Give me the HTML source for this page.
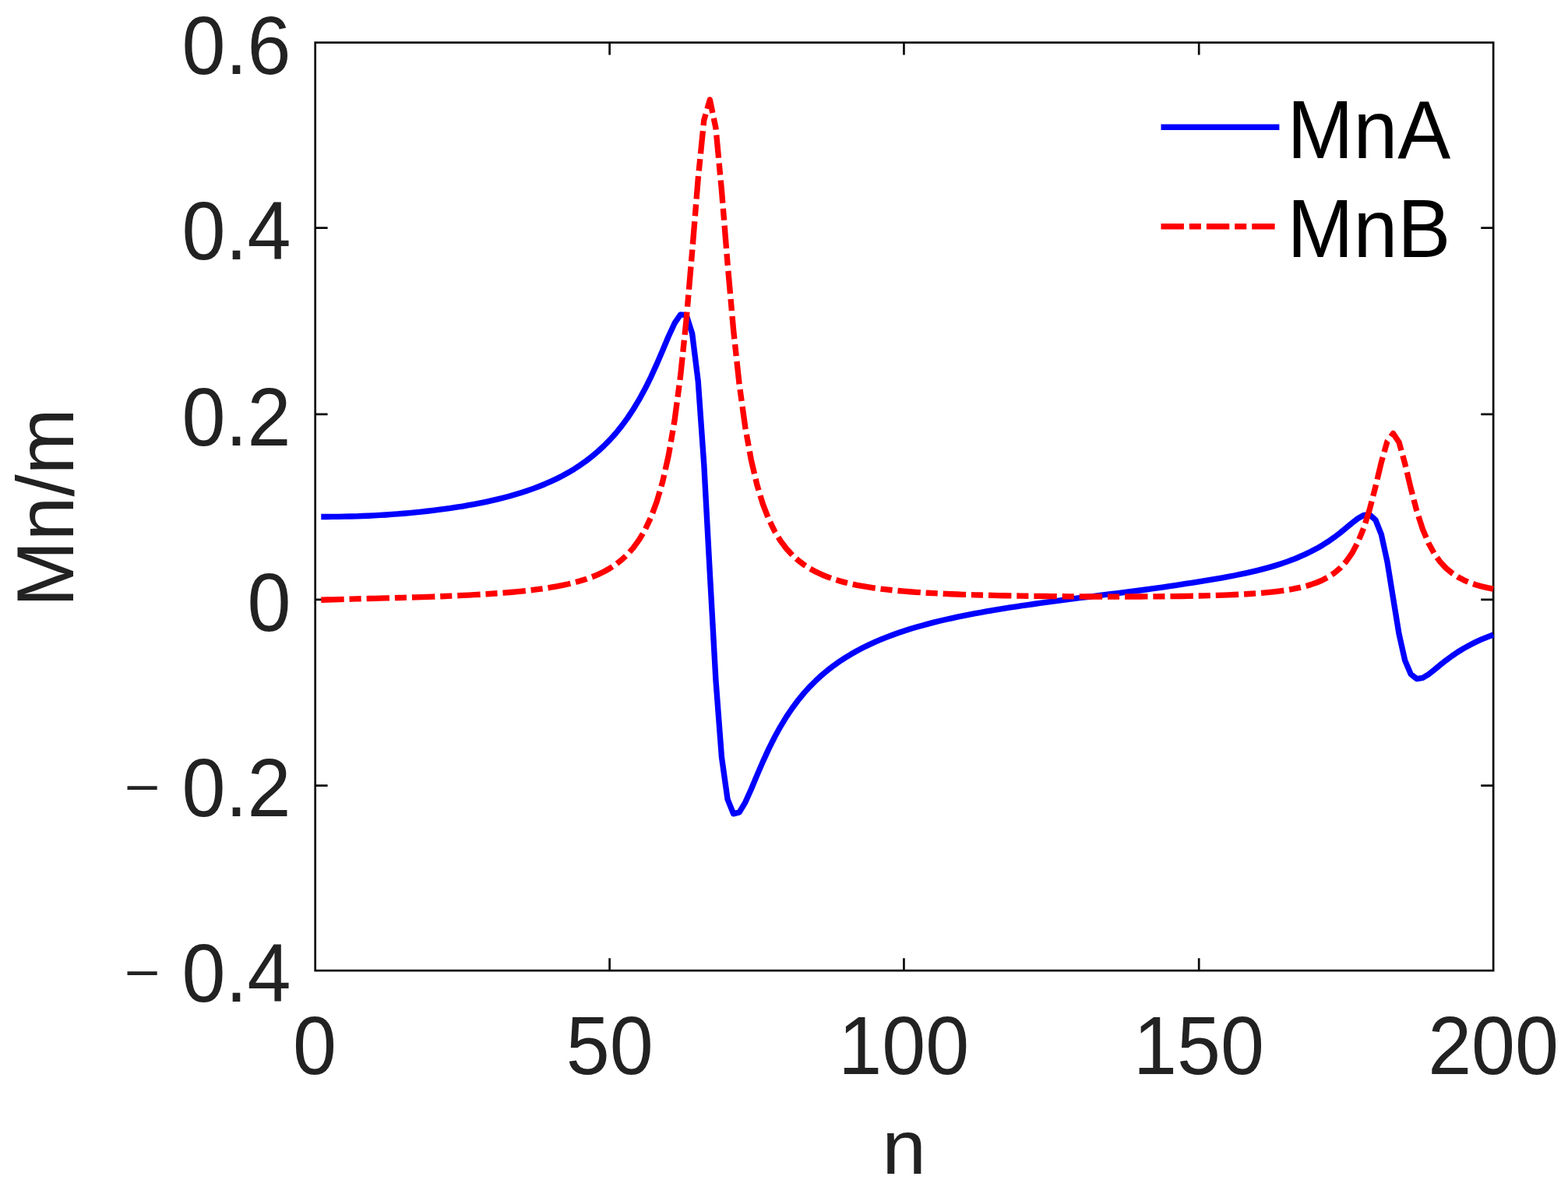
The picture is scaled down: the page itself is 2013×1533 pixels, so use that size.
<!DOCTYPE html>
<html lang="en"><head><meta charset="utf-8"><title>Mn/m</title>
<style>html,body{margin:0;padding:0;background:#fff;}body{width:2013px;height:1533px;overflow:hidden;}svg{display:block;}text{font-family:"Liberation Sans",sans-serif;font-size:102px;fill:#222222;}</style></head><body>
<svg width="2013" height="1533" viewBox="0 0 2013 1533">
<rect x="0" y="0" width="2013" height="1533" fill="#ffffff"/>
<g fill="none" stroke="#0a0a0a" stroke-width="2.7" stroke-linecap="butt">
<rect x="404.70" y="54.65" width="1512.45" height="1191.50"/>
<path d="M782.60 1246.15V1230.25M782.60 54.65V70.55M1160.45 1246.15V1230.25M1160.45 54.65V70.55M1539.20 1246.15V1230.25M1539.20 54.65V70.55M404.70 292.70H420.60M1917.15 292.70H1901.25M404.70 531.80H420.60M1917.15 531.80H1901.25M404.70 769.90H420.60M1917.15 769.90H1901.25M404.70 1008.65H420.60M1917.15 1008.65H1901.25"/>
</g>
<polyline points="412.26,663.45 419.82,663.46 427.39,663.41 434.95,663.33 442.51,663.20 450.07,663.03 457.63,662.81 465.20,662.54 472.76,662.22 480.32,661.86 487.88,661.44 495.44,660.97 503.01,660.44 510.57,659.87 518.13,659.25 525.69,658.57 533.25,657.85 540.82,657.07 548.38,656.25 555.94,655.37 563.50,654.43 571.06,653.43 578.63,652.37 586.19,651.23 593.75,650.02 601.31,648.73 608.87,647.35 616.44,645.89 624.00,644.33 631.56,642.66 639.12,640.89 646.68,638.99 654.25,636.97 661.81,634.81 669.37,632.50 676.93,630.02 684.49,627.37 692.06,624.53 699.62,621.47 707.18,618.19 714.74,614.63 722.30,610.78 729.87,606.59 737.43,602.04 744.99,597.11 752.55,591.74 760.11,585.89 767.68,579.51 775.24,572.53 782.80,564.89 790.36,556.47 797.92,547.17 805.49,536.89 813.05,525.51 820.61,512.93 828.17,499.04 835.73,483.76 843.30,467.14 850.86,449.47 858.42,431.55 865.98,415.17 873.54,403.96 881.11,404.67 888.67,428.44 896.23,489.53 903.79,596.49 911.35,736.47 918.92,872.96 926.48,972.24 934.04,1026.02 941.60,1044.87 949.16,1042.86 956.73,1030.35 964.29,1013.47 971.85,995.45 979.41,977.85 986.97,961.38 994.54,946.27 1002.10,932.55 1009.66,920.14 1017.22,908.93 1024.78,898.80 1032.35,889.63 1039.91,881.31 1047.47,873.73 1055.03,866.81 1062.59,860.48 1070.16,854.66 1077.72,849.30 1085.28,844.35 1092.84,839.77 1100.40,835.52 1107.97,831.56 1115.53,827.86 1123.09,824.41 1130.65,821.17 1138.21,818.12 1145.78,815.26 1153.34,812.56 1160.90,810.01 1168.46,807.60 1176.02,805.32 1183.59,803.16 1191.15,801.10 1198.71,799.15 1206.27,797.29 1213.83,795.52 1221.40,793.82 1228.96,792.19 1236.52,790.64 1244.08,789.14 1251.64,787.70 1259.21,786.31 1266.77,784.97 1274.33,783.67 1281.89,782.41 1289.45,781.19 1297.02,779.99 1304.58,778.83 1312.14,777.69 1319.70,776.58 1327.26,775.50 1334.83,774.43 1342.39,773.39 1349.95,772.36 1357.51,771.35 1365.07,770.36 1372.64,769.37 1380.20,768.40 1387.76,767.44 1395.32,766.49 1402.88,765.54 1410.45,764.60 1418.01,763.66 1425.57,762.72 1433.13,761.79 1440.69,760.85 1448.26,759.90 1455.82,758.95 1463.38,758.00 1470.94,757.01 1478.50,755.98 1486.07,754.92 1493.63,753.83 1501.19,752.71 1508.75,751.56 1516.31,750.40 1523.88,749.23 1531.44,748.05 1539.00,746.86 1546.56,745.66 1554.12,744.42 1561.69,743.15 1569.25,741.82 1576.81,740.44 1584.37,738.99 1591.93,737.47 1599.50,735.87 1607.06,734.17 1614.62,732.36 1622.18,730.43 1629.74,728.35 1637.31,726.11 1644.87,723.70 1652.43,721.11 1659.99,718.29 1667.55,715.24 1675.12,711.92 1682.68,708.29 1690.24,704.32 1697.80,699.96 1705.36,695.15 1712.93,689.86 1720.49,684.10 1728.05,677.93 1735.61,671.59 1743.17,665.74 1750.74,661.51 1758.30,660.86 1765.86,667.47 1773.42,686.43 1780.98,721.24 1788.55,768.06 1796.11,814.29 1803.67,847.86 1811.23,865.69 1818.79,871.51 1826.36,870.35 1833.92,865.80 1841.48,859.89 1849.04,853.67 1856.60,847.68 1864.17,842.10 1871.73,837.00 1879.29,832.37 1886.85,828.18 1894.41,824.40 1901.98,820.97 1909.54,817.86 1917.10,815.03" fill="none" stroke="#0000ff" stroke-width="7.35" stroke-linejoin="round" stroke-linecap="butt"/>
<polyline points="412.26,770.24 419.82,770.03 427.39,769.82 434.95,769.60 442.51,769.39 450.07,769.17 457.63,768.95 465.20,768.75 472.76,768.54 480.32,768.34 487.88,768.15 495.44,767.95 503.01,767.74 510.57,767.53 518.13,767.31 525.69,767.08 533.25,766.84 540.82,766.59 548.38,766.33 555.94,766.06 563.50,765.77 571.06,765.47 578.63,765.15 586.19,764.81 593.75,764.45 601.31,764.07 608.87,763.66 616.44,763.23 624.00,762.77 631.56,762.27 639.12,761.73 646.68,761.16 654.25,760.53 661.81,759.85 669.37,759.11 676.93,758.31 684.49,757.42 692.06,756.45 699.62,755.38 707.18,754.20 714.74,752.88 722.30,751.42 729.87,749.77 737.43,747.92 744.99,745.83 752.55,743.45 760.11,740.73 767.68,737.60 775.24,733.98 782.80,729.75 790.36,724.79 797.92,718.90 805.49,711.85 813.05,703.35 820.61,692.96 828.17,680.13 835.73,664.09 843.30,643.80 850.86,617.79 858.42,584.12 865.98,540.21 873.54,483.10 881.11,410.30 888.67,322.55 896.23,229.35 903.79,154.23 911.35,128.07 918.92,164.31 926.48,244.69 934.04,338.18 941.60,423.69 949.16,493.71 956.73,548.33 964.29,590.26 971.85,622.43 979.41,647.31 986.97,666.76 994.54,682.15 1002.10,694.49 1009.66,704.48 1017.22,712.69 1024.78,719.51 1032.35,725.23 1039.91,730.07 1047.47,734.20 1055.03,737.75 1062.59,740.83 1070.16,743.50 1077.72,745.84 1085.28,747.90 1092.84,749.71 1100.40,751.30 1107.97,752.71 1115.53,753.96 1123.09,755.07 1130.65,756.07 1138.21,756.97 1145.78,757.78 1153.34,758.51 1160.90,759.17 1168.46,759.77 1176.02,760.32 1183.59,760.81 1191.15,761.27 1198.71,761.68 1206.27,762.07 1213.83,762.42 1221.40,762.74 1228.96,763.04 1236.52,763.32 1244.08,763.57 1251.64,763.81 1259.21,764.03 1266.77,764.22 1274.33,764.41 1281.89,764.58 1289.45,764.73 1297.02,764.87 1304.58,765.01 1312.14,765.13 1319.70,765.24 1327.26,765.35 1334.83,765.44 1342.39,765.54 1349.95,765.62 1357.51,765.70 1365.07,765.77 1372.64,765.83 1380.20,765.89 1387.76,765.93 1395.32,765.97 1402.88,766.01 1410.45,766.03 1418.01,766.05 1425.57,766.06 1433.13,766.06 1440.69,766.05 1448.26,766.04 1455.82,766.01 1463.38,765.98 1470.94,765.94 1478.50,765.89 1486.07,765.83 1493.63,765.75 1501.19,765.67 1508.75,765.57 1516.31,765.46 1523.88,765.33 1531.44,765.19 1539.00,765.03 1546.56,764.85 1554.12,764.64 1561.69,764.41 1569.25,764.15 1576.81,763.85 1584.37,763.52 1591.93,763.15 1599.50,762.73 1607.06,762.25 1614.62,761.70 1622.18,761.08 1629.74,760.37 1637.31,759.55 1644.87,758.60 1652.43,757.49 1659.99,756.19 1667.55,754.66 1675.12,752.84 1682.68,750.65 1690.24,748.00 1697.80,744.76 1705.36,740.75 1712.93,735.72 1720.49,729.33 1728.05,721.11 1735.61,710.41 1743.17,696.38 1750.74,677.96 1758.30,654.18 1765.86,625.01 1773.42,593.24 1780.98,566.70 1788.55,556.46 1796.11,568.00 1803.67,595.19 1811.23,626.98 1818.79,655.84 1826.36,679.24 1833.92,697.31 1841.48,711.06 1849.04,721.54 1856.60,729.62 1864.17,735.91 1871.73,740.88 1879.29,744.84 1886.85,748.05 1894.41,750.68 1901.98,752.86 1909.54,754.68 1917.10,756.22" fill="none" stroke="#ff0000" stroke-width="7.35" stroke-linejoin="round" stroke-linecap="butt" stroke-dasharray="29.43 6.86 15.115 6.95"/>
<text transform="translate(403.90 1379.30) scale(0.987 1.028)" text-anchor="middle">0</text>
<text transform="translate(782.80 1379.30) scale(0.987 1.028)" text-anchor="middle">50</text>
<text transform="translate(1160.30 1379.30) scale(0.987 1.028)" text-anchor="middle">100</text>
<text transform="translate(1539.00 1379.30) scale(0.987 1.028)" text-anchor="middle">150</text>
<text transform="translate(1917.10 1379.30) scale(0.987 1.028)" text-anchor="middle">200</text>
<text transform="translate(373.50 94.90) scale(0.987 1.028)" text-anchor="end">0.6</text>
<text transform="translate(373.50 333.20) scale(0.987 1.028)" text-anchor="end">0.4</text>
<text transform="translate(373.50 571.50) scale(0.987 1.028)" text-anchor="end">0.2</text>
<text transform="translate(373.50 809.80) scale(0.987 1.028)" text-anchor="end">0</text>
<text transform="translate(159.83 1033.13) scale(1 0.82)" text-anchor="start" style="font-size:78.6px">−</text>
<text transform="translate(373.50 1048.10) scale(0.987 1.028)" text-anchor="end">0.2</text>
<text transform="translate(159.83 1271.43) scale(1 0.82)" text-anchor="start" style="font-size:78.6px">−</text>
<text transform="translate(373.50 1286.40) scale(0.987 1.028)" text-anchor="end">0.4</text>
<text transform="translate(1160.60 1507.40) scale(1 0.97)" text-anchor="middle">n</text>
<text transform="translate(94.30 651.80) rotate(-90) scale(1 1.02)" text-anchor="middle">Mn/m</text>
<path d="M1490.50 163.20H1642.40" fill="none" stroke="#0000ff" stroke-width="7.6"/>
<path d="M1490.50 290.75H1642.40" fill="none" stroke="#ff0000" stroke-width="7.6" stroke-dasharray="29.43 6.86 15.115 6.95"/>
<text transform="translate(1652.60 203.35) scale(1 1.04)" style="fill:#000000">MnA</text>
<text transform="translate(1652.60 330.35) scale(1 1.04)" style="fill:#000000">MnB</text>
</svg></body></html>
